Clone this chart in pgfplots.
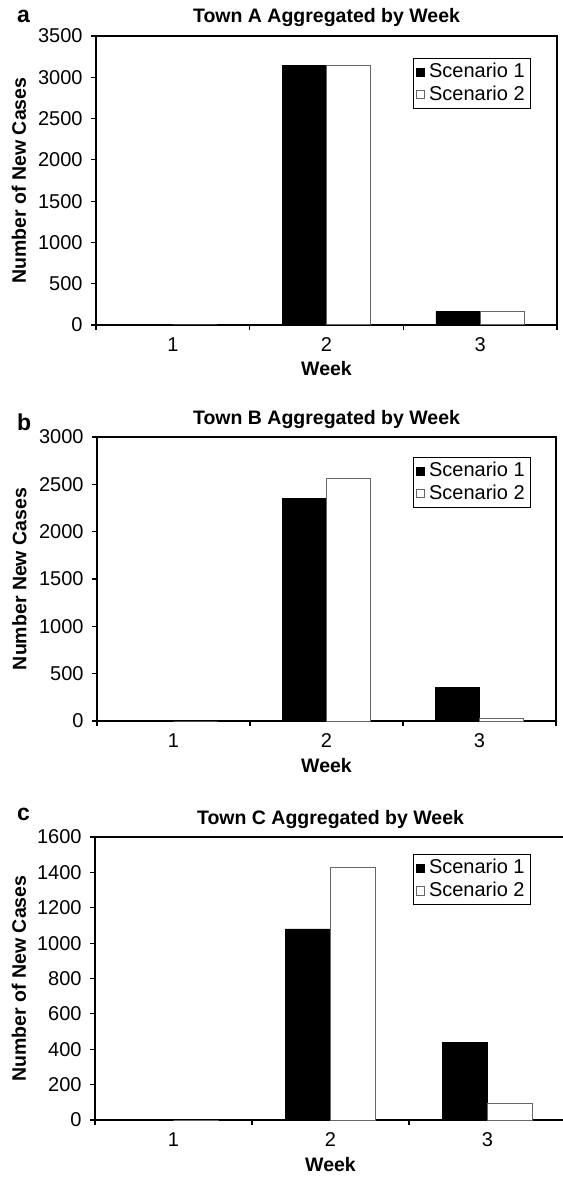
\documentclass[border=0pt]{standalone}
\usepackage{fontspec}
\setmainfont{Liberation Sans}
\usepackage{pgfplots}
\pgfplotsset{compat=1.18}
\begin{document}
\begin{tikzpicture}
\pgfplotsset{
  town/.style={
    scale only axis,
    ybar=0pt,
    bar width=0.288,
    xmin=0.5, xmax=3.5,
    ymin=0,
    xtick={1,2,3},
    major x tick style={draw=none},
    minor xtick={0.5,1.5,2.5,3.5},
    minor tick length=2.5pt,
    major tick length=2.5pt,
    tick align=outside,
    tick pos=left,
    tick style={black, line width=0.6pt},
    axis line style={black, line width=0.6pt},
    /pgf/number format/assume math mode=true,
    /pgf/number format/set thousands separator={},
    tick label style={font=\fontsize{10}{12}\selectfont},
    yticklabel style={inner sep=0pt, xshift=-4pt},
    xticklabel style={inner sep=0pt, yshift=-3.5pt},
    title style={font=\bfseries\fontsize{9.75}{11}\selectfont, at={(0.5,1)}, anchor=base, yshift=0.5pt},
    xlabel={Week},
    xlabel style={font=\bfseries\fontsize{9.75}{11}\selectfont, at={(0.5,0)}, anchor=base, yshift=-25.5pt},
    ylabel style={font=\bfseries\fontsize{9.75}{11}\selectfont, anchor=base},
    legend style={anchor=north east, draw=black, line width=0.5pt, font=\fontsize{10}{12}\selectfont,
      inner xsep=1pt, inner ysep=0.5pt, row sep=-1.5pt, cells={anchor=west}},
    legend image code/.code={\draw[#1, line width=0.4pt] (0pt,-2.1pt) rectangle (4.2pt,2.1pt);},
  },
  s1/.style={fill=black, draw=black, line width=0.4pt},
  s2/.style={fill=white, draw=black!60, line width=0.5pt},
}
% Panel a
\begin{axis}[town, at={(48pt,-18pt)}, anchor=north west,
  width=230.5pt, height=144.5pt,
  ymax=3500, ytick distance=500,
  title={Town A Aggregated by Week},
  ylabel={Number of New Cases},
  ylabel style={at={(-0.152,0.5)}},
  legend style={at={(0.944,0.924)}}]
\addplot[s1] coordinates {(1,0) (2,3140) (3,160)};
\addplot[s2] coordinates {(1,0) (2,3140) (3,160)};
\legend{Scenario 1, Scenario 2}
\end{axis}
% Panel b
\begin{axis}[town, at={(48.5pt,-218.5pt)}, anchor=north west,
  width=229.5pt, height=142pt,
  ymax=3000, ytick distance=500,
  title={Town B Aggregated by Week},
  ylabel={Number New Cases},
  ylabel style={at={(-0.154,0.5)}},
  legend style={at={(0.946,0.93)}}]
\addplot[s1] coordinates {(1,0) (2,2350) (3,350)};
\addplot[s2] coordinates {(1,0) (2,2560) (3,25)};
\legend{Scenario 1, Scenario 2}
\end{axis}
% Panel c
\begin{axis}[town, at={(47.5pt,-418.5pt)}, anchor=north west,
  width=235.5pt, height=141.5pt,
  ymax=1600, ytick distance=200,
  title={Town C Aggregated by Week},
  ylabel={Number of New Cases},
  ylabel style={at={(-0.147,0.5)}},
  legend style={at={(0.926,0.94)}}]
\addplot[s1] coordinates {(1,0) (2,1080) (3,440)};
\addplot[s2] coordinates {(1,0) (2,1425) (3,92)};
\legend{Scenario 1, Scenario 2}
\end{axis}
\node[font=\bfseries\fontsize{11.5}{12}\selectfont, anchor=base west] at (5pt,-11.5pt) {a};
\node[font=\bfseries\fontsize{11.5}{12}\selectfont, anchor=base west] at (5pt,-215.5pt) {b};
\node[font=\bfseries\fontsize{11.5}{12}\selectfont, anchor=base west] at (5pt,-410pt) {c};
\pgfresetboundingbox
\path (0,0) rectangle (281pt,-593pt);
\end{tikzpicture}
\end{document}
